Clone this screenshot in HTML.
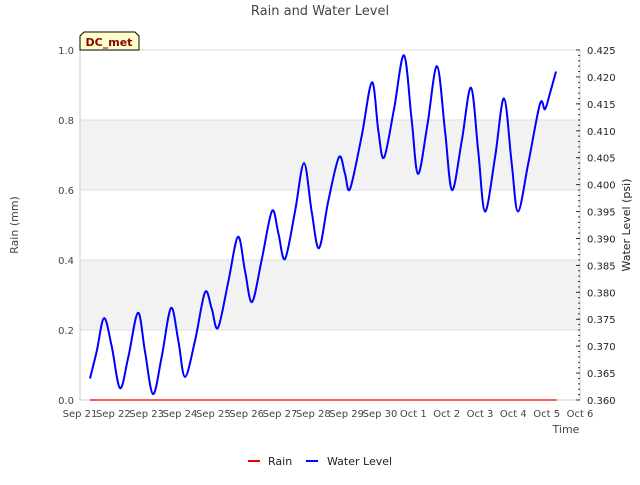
<!DOCTYPE html>
<html><head><meta charset="utf-8"><style>
body{margin:0;background:#fff;font-family:"Liberation Sans","DejaVu Sans",sans-serif}
svg text{font-family:"DejaVu Sans","Liberation Sans",sans-serif}
</style></head><body>
<svg id="c" width="640" height="480" xmlns="http://www.w3.org/2000/svg">
<text x="320" y="15" text-anchor="middle" font-size="13" fill="#444">Rain and Water Level</text>
<g id="bands"></g><g id="grid"></g><g id="axes"></g><g id="series"></g>
<text transform="translate(18,225) rotate(-90)" text-anchor="middle" font-size="11" fill="#444">Rain (mm)</text>
<text transform="translate(630,225) rotate(-90)" text-anchor="middle" font-size="11" fill="#222">Water Level (psi)</text>
<text x="566" y="433" text-anchor="middle" font-size="11" fill="#444">Time</text>
<g>
<path d="M80,50 L80,36 L84,32 L135,32 L139,36 L139,50 Z" fill="#ffffcc" stroke="#000" stroke-width="1"/>
<text x="109" y="46" text-anchor="middle" font-size="11" font-weight="bold" fill="#8b0000">DC_met</text>
</g>
<g>
<g><line x1="248" y1="461" x2="260" y2="461" stroke="#e00" stroke-width="2"/><text x="268" y="465" font-size="11" fill="#222">Rain</text></g>
<g><line x1="306" y1="461" x2="318" y2="461" stroke="#00f" stroke-width="2"/><text x="327" y="465" font-size="11" fill="#222">Water Level</text></g>
</g>
</svg>
<script>
const xTickLabels=["Sep 21","Sep 22","Sep 23","Sep 24","Sep 25","Sep 26","Sep 27","Sep 28","Sep 29","Sep 30","Oct 1","Oct 2","Oct 3","Oct 4","Oct 5","Oct 6"];
const leftTicks=[0,0.2,0.4,0.6,0.8,1.0];
const rightTicks=[0.360,0.365,0.370,0.375,0.380,0.385,0.390,0.395,0.400,0.405,0.410,0.415,0.420,0.425];
const rainDays=[0.3,14.3];
const rainValues=[0,0];
const wlDays=[0.3,0.5,0.72,0.95,1.2,1.45,1.74,1.95,2.19,2.45,2.73,2.95,3.15,3.45,3.75,3.95,4.14,4.45,4.74,4.95,5.16,5.45,5.76,5.95,6.15,6.45,6.72,6.95,7.17,7.45,7.77,7.95,8.1,8.45,8.76,8.95,9.12,9.42,9.72,9.95,10.14,10.42,10.71,10.95,11.16,11.45,11.73,11.95,12.15,12.45,12.72,12.95,13.14,13.45,13.8,13.95,14.1,14.28];
const wlValues=[0.364,0.369,0.3752,0.370,0.3622,0.368,0.3762,0.369,0.3611,0.368,0.3771,0.371,0.3643,0.371,0.380,0.377,0.3734,0.382,0.3903,0.384,0.3782,0.386,0.3951,0.391,0.3862,0.395,0.404,0.395,0.3882,0.397,0.4051,0.402,0.3992,0.409,0.419,0.410,0.405,0.414,0.424,0.412,0.402,0.411,0.422,0.410,0.399,0.408,0.418,0.406,0.395,0.405,0.416,0.404,0.395,0.404,0.415,0.414,0.417,0.421];
const X0=80,X1=580,Y0=400,Y1=50;
const xs=d=>X0+(X1-X0)*d/15;
const yl=v=>Y0-(Y0-Y1)*v/1.0;
const yr=v=>Y0-(Y0-Y1)*(v-0.36)/0.065;
const NS="http://www.w3.org/2000/svg";
function mk(p,tag,at){const e=document.createElementNS(NS,tag);for(const k in at)e.setAttribute(k,at[k]);p.appendChild(e);return e;}
const bands=document.getElementById('bands'),grid=document.getElementById('grid'),axes=document.getElementById('axes'),series=document.getElementById('series');
[[0.2,0.4],[0.6,0.8]].forEach(b=>{const r=mk(bands,'rect',{x:X0,y:yl(b[1]),width:X1-X0,height:yl(b[0])-yl(b[1]),fill:'#f2f2f2'});

});
leftTicks.forEach(v=>{const l=mk(grid,'line',{x1:X0,x2:X1,y1:yl(v),y2:yl(v),stroke:'#ddd','stroke-width':1});


const t=mk(axes,'text',{x:X0-6,y:yl(v)+4,'text-anchor':'end','font-size':10,fill:'#444'});t.textContent=v.toFixed(1);

});
mk(axes,'line',{x1:X0,x2:X0,y1:Y1,y2:Y0,stroke:'#ccc'});
mk(axes,'line',{x1:X0,x2:X1,y1:Y0,y2:Y0,stroke:'#ccc'});
mk(axes,'line',{x1:X1,x2:X1,y1:Y1,y2:Y0,stroke:'#ccc'});
xTickLabels.forEach((s,i)=>{const t=mk(axes,'text',{x:xs(i),y:Y0+17,'text-anchor':'middle','font-size':10,fill:'#444'});t.textContent=s;

});
for(let k=0;k<=65;k++){const v=0.36+k*0.001;const y=yr(v);mk(axes,'line',{x1:X1-2,x2:X1,y1:y,y2:y,stroke:'#333','stroke-width':1});}
rightTicks.forEach(v=>{mk(axes,'line',{x1:X1-4,x2:X1,y1:yr(v),y2:yr(v),stroke:'#333'});
const t=mk(axes,'text',{x:X1+7,y:yr(v)+4,'font-size':10,fill:'#222'});t.textContent=v.toFixed(3);

});
const rain=mk(series,'polyline',{points:rainDays.map((d,i)=>xs(d)+','+yl(rainValues[i])).join(' '),fill:'none',stroke:'#e00','stroke-width':1.2});


const pts=wlDays.map((d,i)=>[xs(d),yr(wlValues[i])]);
let dstr='M'+pts[0][0]+','+pts[0][1];
for(let i=0;i<pts.length-1;i++){const p0=pts[Math.max(0,i-1)],p1=pts[i],p2=pts[i+1],p3=pts[Math.min(pts.length-1,i+2)];
const c1=[p1[0]+(p2[0]-p0[0])/6,p1[1]+(p2[1]-p0[1])/6],c2=[p2[0]-(p3[0]-p1[0])/6,p2[1]-(p3[1]-p1[1])/6];
dstr+=' C'+c1+' '+c2+' '+p2;}
const wl=mk(series,'path',{d:dstr,fill:'none',stroke:'#00f','stroke-width':2});


</script>
</body></html>
